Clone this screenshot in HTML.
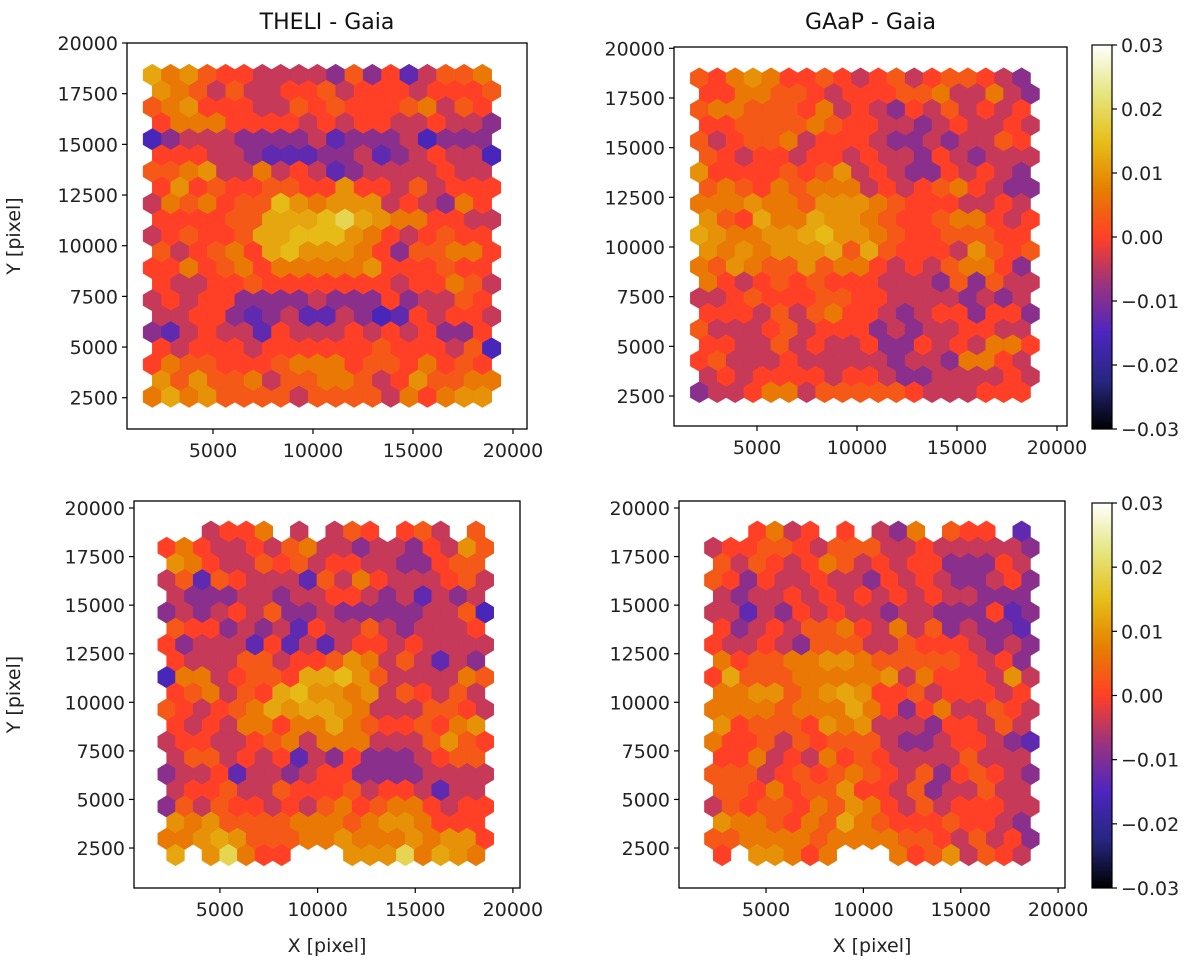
<!DOCTYPE html>
<html><head><meta charset="utf-8">
<style>
html,body{margin:0;padding:0;background:#fff;}
svg{display:block;font-family:"DejaVu Sans","Liberation Sans",sans-serif;}
</style></head>
<body>
<svg id="fig" width="1200" height="963" viewBox="0 0 1200 963" xmlns="http://www.w3.org/2000/svg">
<defs>
<linearGradient id="cmr" x1="0" y1="1" x2="0" y2="0"></linearGradient>
</defs>
</svg>
<script>
// ---- data ----
const levelCodes = "0123456789W";
const levelValues = [-0.0156,-0.0132,-0.009,-0.0042,0,0.003,0.0066,0.0096,0.012,0.0144,0.0192];
const rowsTL = [
"8675443333252413556","7653533445344434445","5674443354544456354","4666444434344334332",
"0233322223122230222","4443321112231234330","5567336343123333433","4745445544744353444",
"3656455976777343264","4444558889W87664433","3454458899976434544","5345648977764255664",
"4464564666667444544","4334454444444344653","3434422223222423354","3344212311320143443",
"2134331433343434224","4344434444445444350","4655444566645546454","7575563556653475566",
"6867555535555364677"];
const rowsTR = [
"5467644543453455432","4466554344455633632","5665554634324353434","4455556544332343343",
"5345563444322323354","5434434434332432333","7444454573432243432","5654656663434564322",
"6667665777654443343","7548668776544566434","8766778977654455544","7676777858544437545",
"6576557566434356642","6434545444333252533","3345444554433332323","4443535644323442442",
"5333453444232334433","4433534334224343664","4533343333323326643","3434444344322333343",
"2334663555554333444"];
const rowsBL = [
"..3446.3.354.453.5","4643343563323324375","764335453443322455","3515433315364333453",
"322233233443231323","2323435223222223350","544232314335323334","4233314131344343333",
"433355344576353132","0663455488975333365","456354897767354353","5434568788763335543",
"434366466865445467","3443345636663335754","355343413242223455","2334133234422223333",
"344533544453443133","2535443435645664344","767555566656776444","6678755566766676774",
"8.7W644...777W6876"];
const rowsBR = [
"..4634.4.326.544.1","3445543555334333332","535434653434422243","5424334332434322342",
"323343434343433222","3313243433233222412","423435564363523221","4334325553354443232",
"645566776555554342","4855566666736444373","667756787445344434","6666566686424633543",
"745554767333244353","6445354555322344321","446343645433335333","5553454565435245432",
"554645574435233533","3545546576435344433","766546586544454432","5566665666655435342",
"4.77646...64573543"];
const xTicks = [5000,10000,15000,20000];
const yTicks = [2500,5000,7500,10000,12500,15000,17500,20000];
const cbTicks = [-0.03,-0.02,-0.01,0.00,0.01,0.02,0.03];
const titles = ["THELI - Gaia","GAaP - Gaia"];

// ---- layout ----
const panels = [
 {name:"theli-top", rows:rowsTL, box:{l:127,r:527,t:43,b:429}, x0:113, sx:0.02, yTop:43, sy:0.02027, gx:1967, gdx:917, gy:18421, gdy:793.5, topOffset:false, title:titles[0], ylab:true, xlab:false},
 {name:"gaap-top", rows:rowsTR, box:{l:674,r:1067,t:47,b:426}, x0:657, sx:0.02, yTop:48.3, sy:0.01987, gx:2117, gdx:895, gy:18491, gdy:790, topOffset:false, title:titles[1], ylab:false, xlab:false},
 {name:"theli-bottom", rows:rowsBL, box:{l:134,r:520,t:501,b:888}, x0:122.3, sx:0.01953, yTop:508, sy:0.01943, gx:2273, gdx:905, gy:18780, gdy:832, topOffset:true, title:null, ylab:true, xlab:true},
 {name:"gaap-bottom", rows:rowsBR, box:{l:679,r:1065,t:501,b:888}, x0:668.7, sx:0.01947, yTop:508, sy:0.01943, gx:2290, gdx:905, gy:18780, gdy:832, topOffset:true, title:null, ylab:false, xlab:true}
];
const colorbars = [{name:"colorbar-top", x:1092, w:20, t:45, b:429},{name:"colorbar-bottom", x:1092, w:20, t:503, b:888}];

const NS = "http://www.w3.org/2000/svg";
const svg = document.getElementById("fig");
function mk(tag, attrs, parent){
  const e = document.createElementNS(NS, tag);
  for (const k in attrs) e.setAttribute(k, attrs[k]);
  (parent||svg).appendChild(e);
  return e;
}
// CMRmap
const cm = [[0,0,0,0],[0.125,0.15,0.15,0.5],[0.25,0.3,0.15,0.75],[0.375,0.6,0.2,0.5],[0.5,1,0.25,0.15],[0.625,0.9,0.5,0],[0.75,0.9,0.75,0.1],[0.875,0.9,0.9,0.5],[1,1,1,1]];
function cmap(v){
  let t = (v + 0.03) / 0.06; t = Math.max(0, Math.min(1, t));
  for (let i=0;i<cm.length-1;i++){
    if (t <= cm[i+1][0]){
      const f = (t - cm[i][0]) / (cm[i+1][0] - cm[i][0]);
      const c = [1,2,3].map(j => Math.round(255*(cm[i][j] + f*(cm[i+1][j]-cm[i][j]))));
      return "rgb(" + c.join(",") + ")";
    }
  }
  return "#fff";
}
const grad = document.getElementById("cmr");
for (let i=0;i<=32;i++){
  const t = i/32;
  mk("stop", {offset: t, "stop-color": cmap(-0.03 + t*0.06)}, grad);
}
function fmt(v){ const s = Math.abs(v).toFixed(2); return (v < -1e-9 ? "\u2212" : "") + s; }

panels.forEach(p => {
  const X = v => p.x0 + p.sx * v;
  const Y = v => p.yTop + (20000 - v) * p.sy;
  const g = mk("g", {});
  
  
  const rx = p.gdx * p.sx / 2, ry = p.gdy * p.sy / 1.5;
  p.rows.forEach((row, r) => {
    const off = (r % 2 === 0) === p.topOffset;
    const vy = p.gy - r * p.gdy;
    for (let i=0;i<row.length;i++){
      const ch = row[i];
      const li = levelCodes.indexOf(ch);
      if (li < 0) continue;
      const val = levelValues[li];
      const vx = p.gx + i * p.gdx + (off ? p.gdx/2 : 0);
      const cx = X(vx), cy = Y(vy);
      const pts = [[cx,cy-ry],[cx+rx,cy-ry/2],[cx+rx,cy+ry/2],[cx,cy+ry],[cx-rx,cy+ry/2],[cx-rx,cy-ry/2]].map(q=>q[0].toFixed(2)+","+q[1].toFixed(2)).join(" ");
      const c = cmap(val);
      const h = mk("polygon", {points: pts, fill: c, stroke: c, "stroke-width": 0.6}, g);
      
      
    }
  });
  const b = p.box;
  const fr = mk("rect", {x:b.l, y:b.t, width:b.r-b.l, height:b.b-b.t, fill:"none", stroke:"#000", "stroke-width":1.3}, g);
  
  
  xTicks.forEach(t => {
    const x = X(t);
    mk("line", {x1:x, x2:x, y1:b.b, y2:b.b+5, stroke:"#000", "stroke-width":1.2}, g);
    const tx = mk("text", {x:x, y:b.b+28, "text-anchor":"middle", "font-size":19, fill:"#222"}, g);
    tx.textContent = t;
    
    
  });
  yTicks.forEach(t => {
    const y = Y(t);
    mk("line", {x1:b.l-5, x2:b.l, y1:y, y2:y, stroke:"#000", "stroke-width":1.2}, g);
    const ty = mk("text", {x:b.l-9, y:y+7, "text-anchor":"end", "font-size":19, fill:"#222"}, g);
    ty.textContent = t;
    
    
  });
  if (p.title){
    const tt = mk("text", {x:(b.l+b.r)/2, y:29, "text-anchor":"middle", "font-size":22, fill:"#111"}, g);
    tt.textContent = p.title;
    
    
  }
  if (p.ylab){
    const cy = (b.t+b.b)/2;
    const yl = mk("text", {x:0, y:0, transform:"translate(20,"+cy+") rotate(-90)", "text-anchor":"middle", "font-size":19, fill:"#222"}, g);
    yl.textContent = "Y [pixel]";
    
    
  }
  if (p.xlab){
    const xl = mk("text", {x:(b.l+b.r)/2, y:952, "text-anchor":"middle", "font-size":19, fill:"#222"}, g);
    xl.textContent = "X [pixel]";
    
    
  }
});

colorbars.forEach(cb => {
  const g = mk("g", {});
  
  
  mk("rect", {x:cb.x, y:cb.t, width:cb.w, height:cb.b-cb.t, fill:"url(#cmr)", stroke:"#000", "stroke-width":1.2}, g);
  const C = v => cb.b - (v + 0.03) / 0.06 * (cb.b - cb.t);
  cbTicks.forEach(t => {
    const y = C(t);
    mk("line", {x1:cb.x+cb.w, x2:cb.x+cb.w+5, y1:y, y2:y, stroke:"#000", "stroke-width":1.2}, g);
    const tl = mk("text", {x:cb.x+cb.w+9, y:y+7, "font-size":19, fill:"#222"}, g);
    tl.textContent = fmt(t);
    
    
  });
});
</script>
</body></html>
